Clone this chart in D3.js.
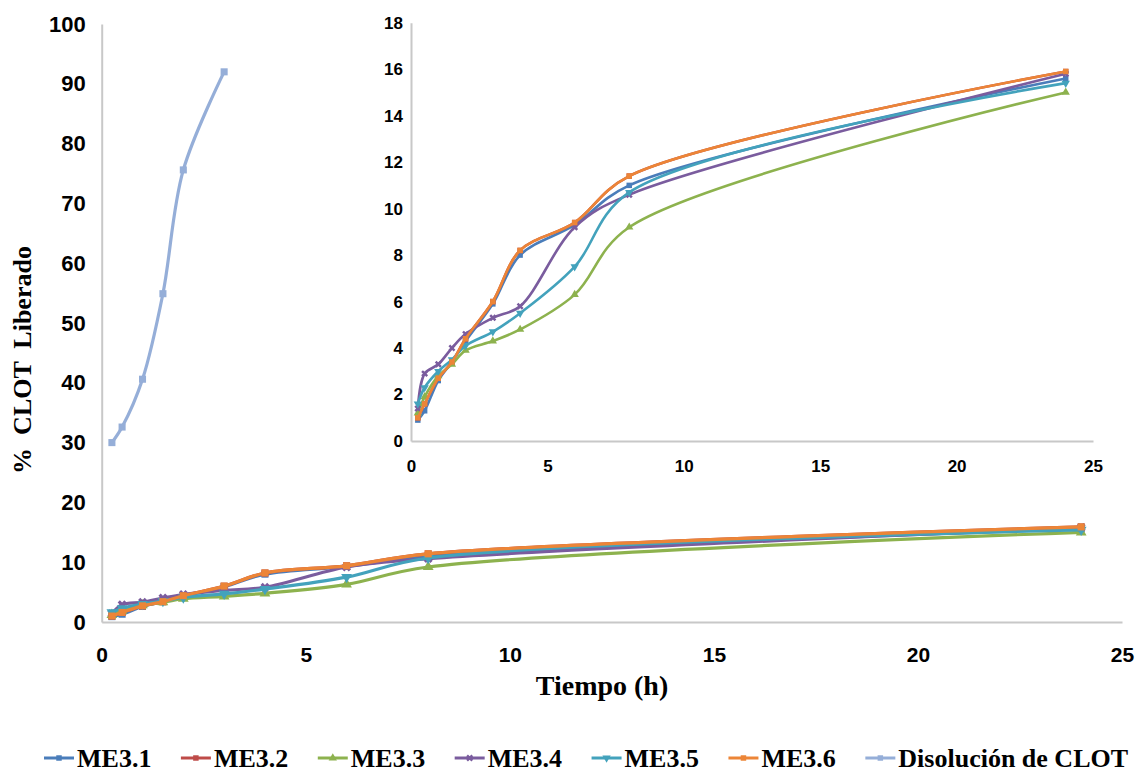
<!DOCTYPE html>
<html>
<head>
<meta charset="utf-8">
<script src="https://cdn.jsdelivr.net/npm/d3@7"></script>
<style>
  body { margin: 0; background: #fff; }
  svg { display: block; }
  .tick text { font-family: "Liberation Sans", Arial, sans-serif; font-weight: bold; fill: #000; }
</style>
</head>
<body>
<svg id="chart" width="1136" height="772"></svg>
<script>
// sample times (h) and % released
var times = [0.25, 0.5, 1, 1.5, 2, 3, 4, 6, 8, 24]
var me31 = [0.9, 1.3, 2.6, 3.4, 4.3, 5.9, 8.0, 9.3, 11.0, 15.6]
var me32 = [1.0, 1.6, 2.7, 3.4, 4.4, 6.0, 8.2, 9.4, 11.4, 15.9]
var me33 = [1.2, 1.9, 2.8, 3.3, 3.9, 4.3, 4.8, 6.3, 9.2, 15.0]
var me34 = [1.4, 2.9, 3.3, 4.0, 4.6, 5.3, 5.8, 9.2, 10.6, 15.8]
var me35 = [1.6, 2.3, 3.0, 3.5, 4.1, 4.7, 5.5, 7.5, 10.7, 15.4]
var me36 = [1.0, 1.6, 2.7, 3.4, 4.4, 6.0, 8.2, 9.4, 11.4, 15.9]
var clotTimes = [0.25, 0.5, 1, 1.5, 2, 3]
var clotValues = [30.0, 32.6, 40.6, 54.9, 75.6, 92.0]

var names = ['ME3.1', 'ME3.2', 'ME3.3', 'ME3.4', 'ME3.5', 'ME3.6', 'Disolución de CLOT']
var colors = ['#4A7DBA', '#BE4B48', '#8DB24E', '#7A5C9E', '#43A2BC', '#EC8537', '#95AED8']
var shapes = [d3.symbolSquare, d3.symbolSquare, d3.symbolTriangle, d3.symbolCross, d3.symbolTriangle, d3.symbolSquare, d3.symbolSquare]
var rotate = [0, 0, 0, 45, 180, 0, 0]

var mainX = [0, 5, 10, 15, 20, 25]
var mainY = [0, 10, 20, 30, 40, 50, 60, 70, 80, 90, 100]
var insetX = [0, 5, 10, 15, 20, 25]
var insetY = [0, 2, 4, 6, 8, 10, 12, 14, 16, 18]

var series = [me31, me32, me33, me34, me35, me36].map(function(v, i) {
	return {name: names[i], color: colors[i], shape: shapes[i], rot: rotate[i],
		pts: times.map(function(t, j) { return [t, v[j]] })}
})
var clot = {name: names[6], color: colors[6], shape: shapes[6], rot: 0,
	pts: clotTimes.map(function(t, j) { return [t, clotValues[j]] })}

var svg = d3.select('#chart')

function panel(g, x, y, list, o) {
	g.append('g').attr('transform', 'translate(0,' + y.range()[0] + ')')
		.call(d3.axisBottom(x).tickValues(o.xt).tickSize(0).tickPadding(o.xpad))
		.call(function(a) { a.selectAll('text').style('font-size', o.fs + 'px') })
	g.append('g').attr('transform', 'translate(' + x.range()[0] + ',0)')
		.call(d3.axisLeft(y).tickValues(o.yt).tickSize(0).tickPadding(o.ypad))
		.call(function(a) { a.selectAll('text').style('font-size', o.yfs + 'px') })
	g.selectAll('.domain').attr('stroke', '#C8C8C8').attr('stroke-width', 2)

	var line = d3.line().x(function(d) { return x(d[0]) }).y(function(d) { return y(d[1]) })
		.curve(d3.curveCatmullRom.alpha(0.5))
	list.forEach(function(s) {
		g.append('path').attr('d', line(s.pts)).attr('fill', 'none')
			.attr('stroke', s.color).attr('stroke-width', o.lw)
		g.selectAll(null).data(s.pts).enter().append('path')
			.attr('d', d3.symbol().type(s.shape).size(o.ms))
			.attr('transform', function(d) { return 'translate(' + x(d[0]) + ',' + y(d[1]) + ') rotate(' + s.rot + ')' })
			.attr('fill', s.color)
	})
}

// main chart
var gm = svg.append('g')
panel(gm, d3.scaleLinear([0, 25], [101.7, 1122]), d3.scaleLinear([0, 100], [622, 24]),
	series.concat([clot]), {xt: mainX, yt: mainY, fs: 21, yfs: 22, xpad: 25, ypad: 16, lw: 3.2, ms: 50})

// inset
var gi = svg.append('g')
panel(gi, d3.scaleLinear([0, 25], [411, 1093]), d3.scaleLinear([0, 18], [441, 22.7]),
	series, {xt: insetX, yt: insetY, fs: 17, yfs: 17, xpad: 19, ypad: 8, lw: 2.6, ms: 30})

// axis titles
svg.append('text').attr('x', 602).attr('y', 695).attr('text-anchor', 'middle')
	.style('font', 'bold 28px "Liberation Serif", "Times New Roman", serif').text('Tiempo (h)')
svg.append('text').attr('transform', 'translate(31,360) rotate(-90)').attr('text-anchor', 'middle')
	.style('font', 'bold 26px "Liberation Serif", "Times New Roman", serif')
	.style('white-space', 'pre').text('%  CLOT  Liberado')

// legend
var lg = svg.append('g').attr('transform', 'translate(44,758)')
var lx = 0
series.concat([clot]).forEach(function(s) {
	var it = lg.append('g').attr('transform', 'translate(' + lx + ',0)')
	it.append('line').attr('x1', 0).attr('x2', 30).attr('stroke', s.color).attr('stroke-width', 3)
	it.append('path').attr('d', d3.symbol().type(s.shape).size(30)).attr('fill', s.color)
		.attr('transform', 'translate(15,0) rotate(' + s.rot + ')')
	var t = it.append('text').attr('x', 33).attr('y', 9)
		.style('font', 'bold 26px "Liberation Serif", "Times New Roman", serif').text(s.name)
	lx += 33 + t.node().getComputedTextLength() + 29.5
})
</script>
</body>
</html>
